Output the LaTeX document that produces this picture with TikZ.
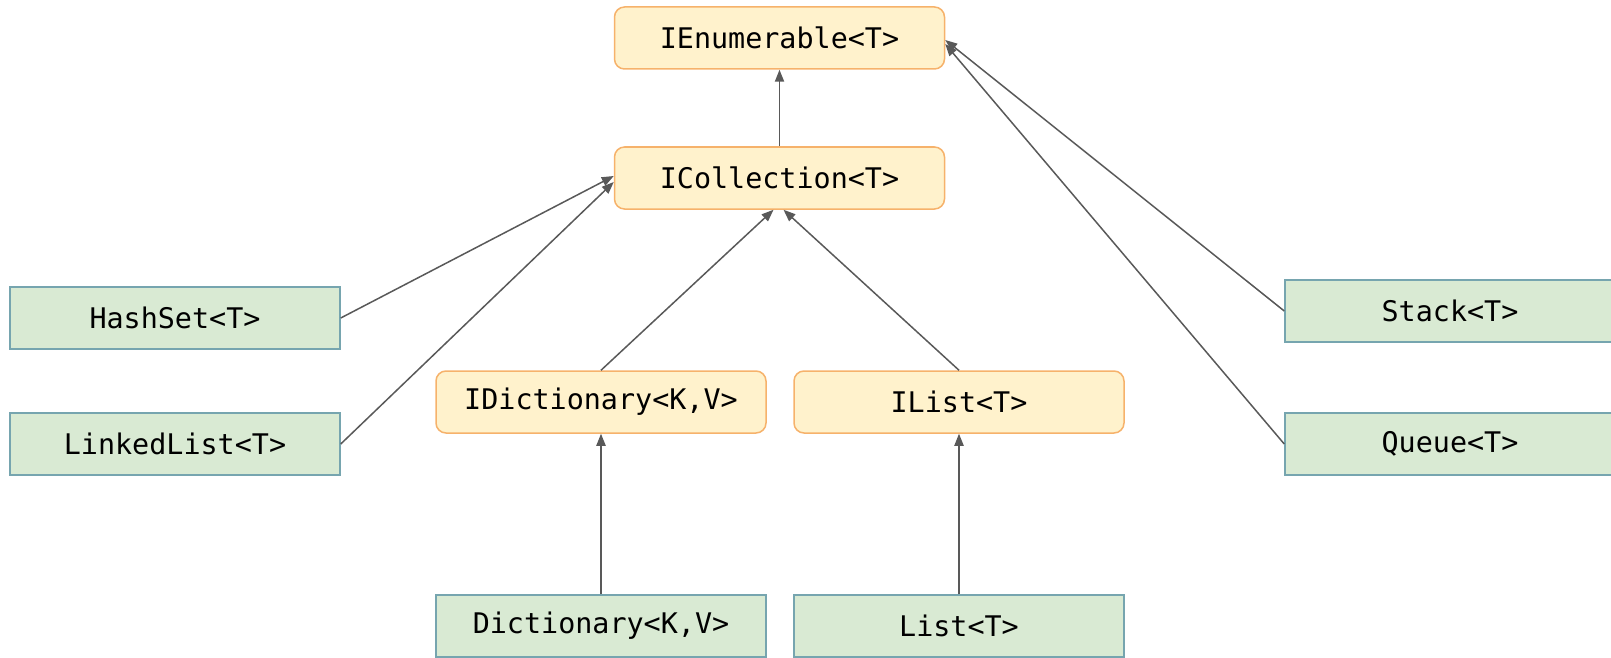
\documentclass[tikz,border=0pt]{standalone}
\usepackage{fontspec}
\setmonofont{DejaVu Sans Mono}
\usetikzlibrary{arrows.meta}
\definecolor{ifill}{HTML}{FFF2CC}
\definecolor{idraw}{HTML}{F6B26B}
\definecolor{cfill}{HTML}{D9EAD3}
\definecolor{cdraw}{HTML}{76A5AF}
\definecolor{arr}{HTML}{595959}
\tikzset{
  base/.style={minimum width=165pt, minimum height=31pt, inner sep=0pt, line width=0.75pt,
    font=\ttfamily\fontsize{14.2pt}{16pt}\selectfont, text=black},
  iface/.style={base, draw=idraw, fill=ifill, rounded corners=5pt},
  cls/.style={base, draw=cdraw, fill=cfill},
  link/.style={draw=arr, line width=0.75pt, -{Triangle[length=6pt,width=4.6pt]}}
}
\begin{document}
\begin{tikzpicture}[x=0.5pt,y=-0.5pt]
\useasboundingbox (0,0) rectangle (1611,658);
\node[iface] (ienum) at (779.5,38) {IEnumerable<T>};
\node[iface] (icoll) at (779.5,178) {ICollection<T>};
\node[iface] (idict) at (601,402) {IDictionary<K,V>};
\node[iface] (ilist) at (959,402) {IList<T>};
\node[cls] (hash) at (175,318) {HashSet<T>};
\node[cls] (linked) at (175,444) {LinkedList<T>};
\node[cls] (stack) at (1450,311) {Stack<T>};
\node[cls] (queue) at (1450,444) {Queue<T>};
\node[cls] (dict) at (601,626) {Dictionary<K,V>};
\node[cls] (list) at (959,626) {List<T>};
\draw[link] (icoll.north) -- (ienum.south);
\draw[link] (hash.east) -- ([yshift=1pt]icoll.west);
\draw[link] (linked.east) -- ([yshift=-2pt]icoll.west);
\draw[link] (idict.north) -- ([xshift=-3pt]icoll.south);
\draw[link] (ilist.north) -- ([xshift=2pt]icoll.south);
\draw[link] (stack.west) -- ([yshift=-1pt]ienum.east);
\draw[link] (queue.west) -- ([yshift=-3pt]ienum.east);
\draw[link] (dict.north) -- (idict.south);
\draw[link] (list.north) -- (ilist.south);
\end{tikzpicture}
\end{document}
